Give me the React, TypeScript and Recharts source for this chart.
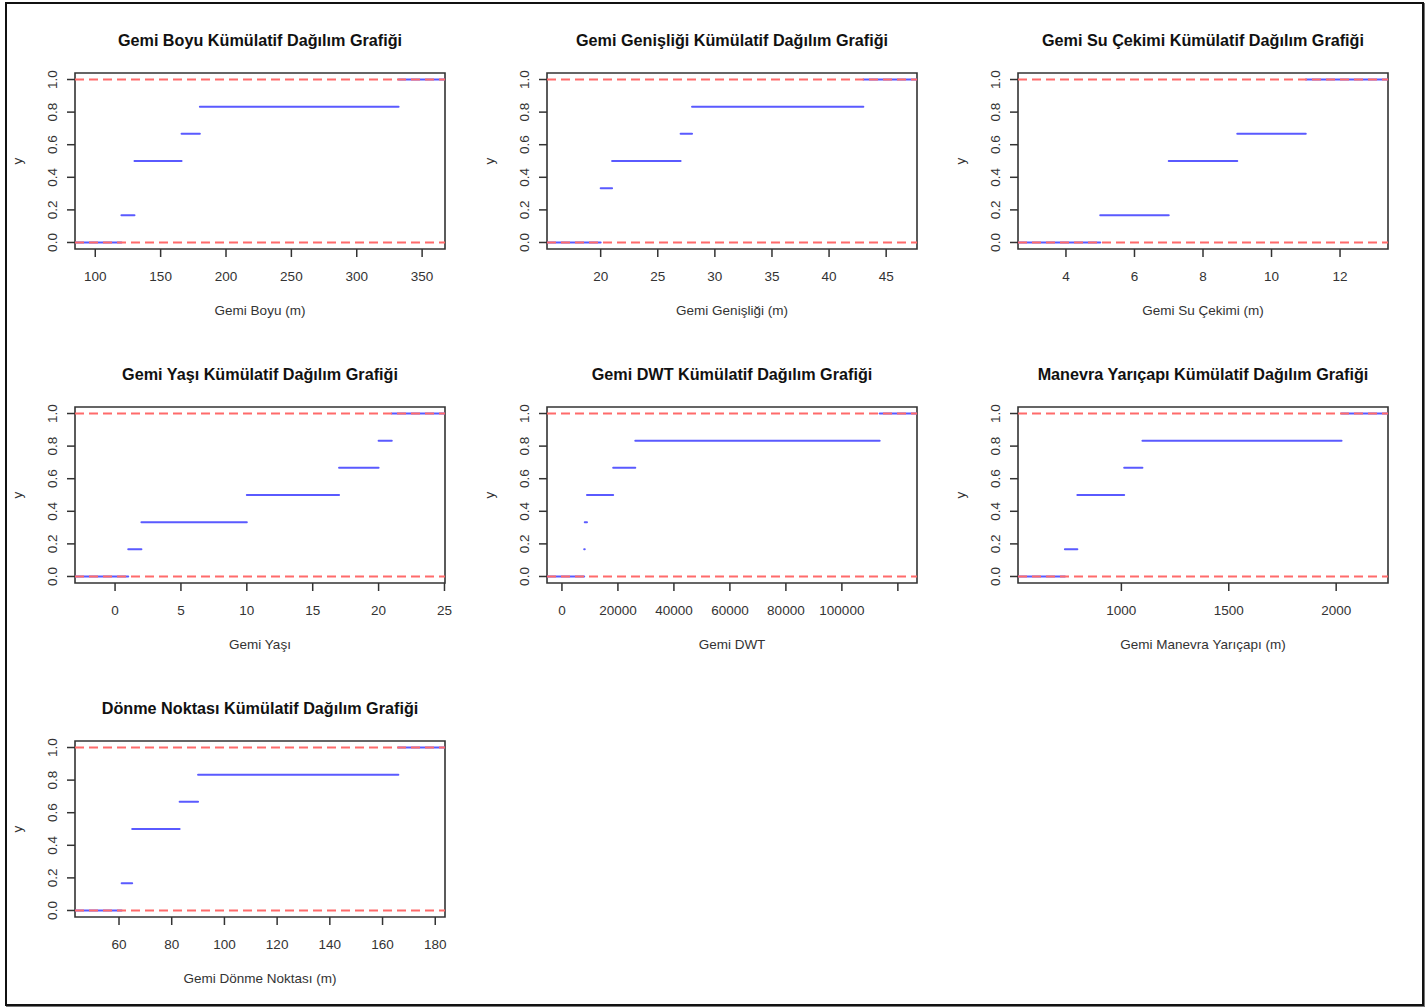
import React from 'react';
import { LineChart, Line, XAxis, YAxis, ReferenceArea } from 'recharts';

const FONT = '"Liberation Sans", Arial, Helvetica, sans-serif';

// ---- shared y axis ----
const yTicks = [0, 0.2, 0.4, 0.6, 0.8, 1.0];
const yDomain: [number, number] = [-0.04, 1.04];
const yLabel = 'y';

// ---- Panel 1: Gemi Boyu ----
const boyuKnots = [120, 130, 166, 180, 332];
const boyuLevels = [0.1667, 0.5, 0.6667, 0.8333, 1.0];
const boyuTicks = [100, 150, 200, 250, 300, 350];
const boyuDomain: [number, number] = [84.5, 367.5];

// ---- Panel 2: Gemi Genişliği ----
const genislikKnots = [20, 21, 27, 28, 43];
const genislikLevels = [0.3333, 0.5, 0.6667, 0.8333, 1.0];
const genislikTicks = [20, 25, 30, 35, 40, 45];
const genislikDomain: [number, number] = [15.3, 47.7];

// ---- Panel 3: Gemi Su Çekimi ----
const suCekimiKnots = [5, 7, 9, 11];
const suCekimiLevels = [0.1667, 0.5, 0.6667, 1.0];
const suCekimiTicks = [4, 6, 8, 10, 12];
const suCekimiDomain: [number, number] = [2.6, 13.4];

// ---- Panel 4: Gemi Yaşı ----
const yasKnots = [1, 2, 10, 17, 20, 21];
const yasLevels = [0.1667, 0.3333, 0.5, 0.6667, 0.8333, 1.0];
const yasTicks = [0, 5, 10, 15, 20, 25];
const yasDomain: [number, number] = [-3.04, 25.04];

// ---- Panel 5: Gemi DWT ----
const dwtKnots = [7950, 8150, 8950, 18300, 26200, 113500];
const dwtLevels = [0.1667, 0.3333, 0.5, 0.6667, 0.8333, 1.0];
const dwtTicks = [0, 20000, 40000, 60000, 80000, 100000, 120000];
const dwtHiddenLabels = [120000];
const dwtDomain: [number, number] = [-5335, 126835];

// ---- Panel 6: Manevra Yarıçapı ----
const manevraKnots = [737, 795, 1013, 1098, 2025];
const manevraLevels = [0.1667, 0.5, 0.6667, 0.8333, 1.0];
const manevraTicks = [1000, 1500, 2000];
const manevraDomain: [number, number] = [518.7, 2241.3];

// ---- Panel 7: Dönme Noktası ----
const donmeKnots = [61, 65, 83, 90, 166];
const donmeLevels = [0.1667, 0.5, 0.6667, 0.8333, 1.0];
const donmeTicks = [60, 80, 100, 120, 140, 160, 180];
const donmeDomain: [number, number] = [43.3, 183.7];

const titles = [
  'Gemi Boyu Kümülatif Dağılım Grafiği',
  'Gemi Genişliği Kümülatif Dağılım Grafiği',
  'Gemi Su Çekimi Kümülatif Dağılım Grafiği',
  'Gemi Yaşı Kümülatif Dağılım Grafiği',
  'Gemi DWT Kümülatif Dağılım Grafiği',
  'Manevra Yarıçapı Kümülatif Dağılım Grafiği',
  'Dönme Noktası Kümülatif Dağılım Grafiği',
];
const xLabels = [
  'Gemi Boyu (m)',
  'Gemi Genişliği (m)',
  'Gemi Su Çekimi (m)',
  'Gemi Yaşı',
  'Gemi DWT',
  'Gemi Manevra Yarıçapı (m)',
  'Gemi Dönme Noktası (m)',
];

type Cfg = {
  knots: number[];
  levels: number[];
  ticks: number[];
  domain: [number, number];
  hidden?: number[];
};

const panels: Cfg[] = [
  { knots: boyuKnots, levels: boyuLevels, ticks: boyuTicks, domain: boyuDomain },
  { knots: genislikKnots, levels: genislikLevels, ticks: genislikTicks, domain: genislikDomain },
  { knots: suCekimiKnots, levels: suCekimiLevels, ticks: suCekimiTicks, domain: suCekimiDomain },
  { knots: yasKnots, levels: yasLevels, ticks: yasTicks, domain: yasDomain },
  { knots: dwtKnots, levels: dwtLevels, ticks: dwtTicks, domain: dwtDomain, hidden: dwtHiddenLabels },
  { knots: manevraKnots, levels: manevraLevels, ticks: manevraTicks, domain: manevraDomain },
  { knots: donmeKnots, levels: donmeLevels, ticks: donmeTicks, domain: donmeDomain },
];

// layout
const COLS = [7, 479, 950];
const ROWS = [3, 337, 671];
const W = 472;
const H = 334;
const BOX_LEFT = 68;
const BOX_TOP = 70;
const BOX_W = 370;
const BOX_H = 176;
const AX = 1; // axis band thickness
const M = {
  left: BOX_LEFT - AX,
  top: BOX_TOP,
  right: W - BOX_LEFT - BOX_W,
  bottom: H - BOX_TOP - BOX_H - AX,
};

const BLUE = '#5a5aff';
const RED = '#ff6b6b';
const INK = '#333';

function buildSteps(knots: number[], levels: number[], domain: [number, number]) {
  const xs = [domain[0], ...knots, domain[1]];
  const ys = [0, ...levels];
  const pts: { x: number; y: number | null }[] = [];
  for (let i = 0; i < ys.length; i++) {
    if (i > 0) pts.push({ x: xs[i], y: null });
    pts.push({ x: xs[i], y: ys[i] });
    pts.push({ x: xs[i + 1], y: ys[i] });
  }
  return pts;
}

function XTick(props: any) {
  const { x, y, payload, hidden } = props;
  const v = payload.value;
  return (
    <text x={x} y={y + 22} textAnchor="middle" fontSize={13.5} fontFamily={FONT} fill={INK}>
      {hidden && hidden.includes(v) ? '' : String(v)}
    </text>
  );
}

function YTick(props: any) {
  const { x, y, payload } = props;
  const bx = x - 7.7;
  return (
    <text
      x={bx}
      y={y}
      transform={`rotate(-90 ${bx} ${y})`}
      textAnchor="middle"
      fontSize={13.5}
      fontFamily={FONT}
      fill={INK}
    >
      {Number(payload.value).toFixed(1)}
    </text>
  );
}

function Panel({ cfg, left, top }: { cfg: Cfg; left: number; top: number }) {
  const steps = buildSteps(cfg.knots, cfg.levels, cfg.domain);
  const [lo, hi] = cfg.domain;
  const hidden = cfg.hidden || [];
  return (
    <div style={{ position: 'absolute', left, top, width: W, height: H }}>
      <LineChart width={W} height={H} margin={M}>
        <XAxis
          type="number"
          dataKey="x"
          domain={cfg.domain}
          ticks={cfg.ticks}
          interval={0}
          allowDataOverflow
          height={AX}
          tickSize={8}
          tickMargin={2}
          axisLine={false}
          tickLine={{ stroke: INK, strokeWidth: 1.5 }}
          tick={<XTick hidden={hidden} />}
        />
        <YAxis
          type="number"
          domain={yDomain}
          ticks={yTicks}
          interval={0}
          allowDataOverflow
          width={AX}
          tickSize={8}
          tickMargin={2}
          axisLine={false}
          tickLine={{ stroke: INK, strokeWidth: 1.5 }}
          tick={<YTick />}
        />
        <ReferenceArea
          x1={lo}
          x2={hi}
          y1={yDomain[0]}
          y2={yDomain[1]}
          fill="none"
          fillOpacity={0}
          stroke={INK}
          strokeWidth={1.6}
          ifOverflow="visible"
        />
        <Line
          data={steps}
          dataKey="y"
          type="linear"
          stroke={BLUE}
          strokeWidth={2}
          strokeLinecap="round"
          dot={false}
          activeDot={false}
          connectNulls={false}
          isAnimationActive={false}
        />
        <Line
          data={[{ x: lo, y: 0 }, { x: hi, y: 0 }]}
          dataKey="y"
          type="linear"
          stroke={RED}
          strokeWidth={2}
          strokeDasharray="9 5"
          dot={false}
          activeDot={false}
          isAnimationActive={false}
        />
        <Line
          data={[{ x: lo, y: 1 }, { x: hi, y: 1 }]}
          dataKey="y"
          type="linear"
          stroke={RED}
          strokeWidth={2}
          strokeDasharray="9 5"
          dot={false}
          activeDot={false}
          isAnimationActive={false}
        />
      </LineChart>
    </div>
  );
}

export default function App() {
  const positions = panels.map((_, i) => ({ left: COLS[i % 3], top: ROWS[Math.floor(i / 3)] }));
  return (
    <div
      style={{
        position: 'absolute',
        left: 0,
        top: 0,
        width: 1426,
        height: 1007,
        background: '#fff',
        overflow: 'hidden',
      }}
    >
      <div
        style={{
          position: 'absolute',
          left: 5,
          top: 2,
          width: 1419,
          height: 1004,
          border: '2px solid #111',
          boxSizing: 'border-box',
          boxShadow: '1px 1px 0 #777',
        }}
      />
      {panels.map((cfg, i) => (
        <Panel key={i} cfg={cfg} left={positions[i].left} top={positions[i].top} />
      ))}
      <svg
        width={1426}
        height={1007}
        style={{ position: 'absolute', left: 0, top: 0, pointerEvents: 'none' }}
      >
        {panels.map((_, i) => {
          const bl = positions[i].left + BOX_LEFT;
          const bt = positions[i].top + BOX_TOP;
          const cx = bl + BOX_W / 2;
          const cy = bt + BOX_H / 2;
          const bb = bt + BOX_H;
          const yx = bl - 52.7;
          return (
            <g key={i} fontFamily={FONT}>
              <text x={cx} y={bt - 27} textAnchor="middle" fontSize={16.2} fontWeight="bold" fill="#111">
                {titles[i]}
              </text>
              <text x={cx} y={bb + 66} textAnchor="middle" fontSize={13.5} fill={INK}>
                {xLabels[i]}
              </text>
              <text
                x={yx}
                y={cy}
                transform={`rotate(-90 ${yx} ${cy})`}
                textAnchor="middle"
                fontSize={13.5}
                fill={INK}
              >
                {yLabel}
              </text>
            </g>
          );
        })}
      </svg>
    </div>
  );
}
